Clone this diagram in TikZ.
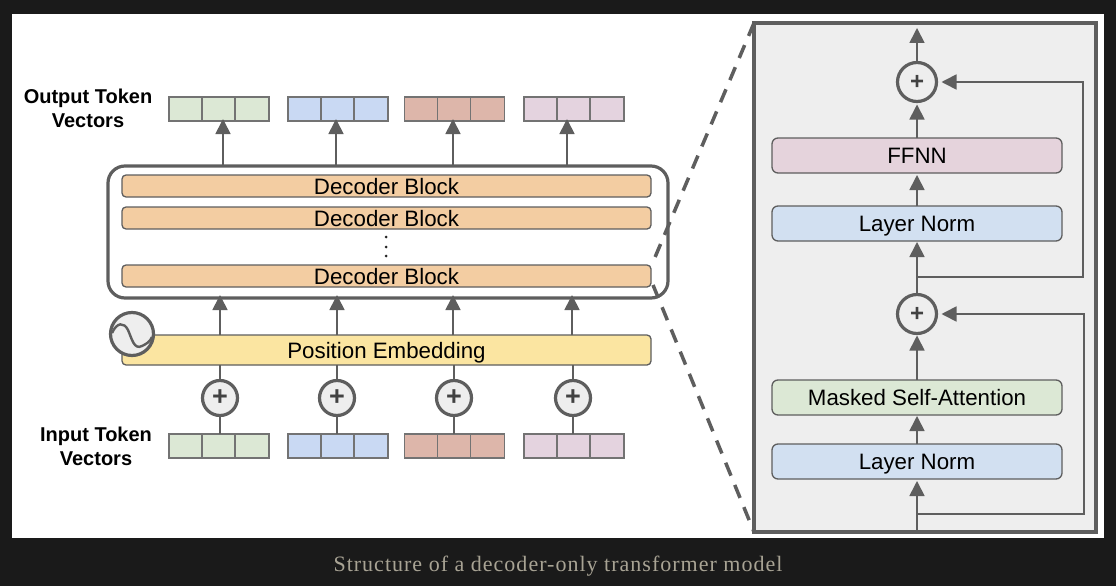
\documentclass[tikz,border=0pt]{standalone}
\usepackage{fontspec}
\setmainfont{Liberation Sans}
\newfontfamily\capfont[LetterSpace=4.6]{Liberation Serif}
\usetikzlibrary{arrows.meta}
\definecolor{ln}{HTML}{5E5E5E}
\definecolor{vln}{HTML}{737373}
\definecolor{vgreen}{HTML}{DCE8D5}
\definecolor{vblue}{HTML}{C9D9F3}
\definecolor{vred}{HTML}{DDB6AA}
\definecolor{vpink}{HTML}{E4D3DF}
\definecolor{orangeb}{HTML}{F3CDA2}
\definecolor{yellowb}{HTML}{FBE5A1}
\definecolor{lblue}{HTML}{D2E0F1}
\definecolor{lgreen}{HTML}{DCE8D5}
\definecolor{lpink}{HTML}{E5D3DC}
\definecolor{panel}{HTML}{EEEEEE}
\definecolor{dark}{HTML}{1A1A1A}
\definecolor{captxt}{HTML}{A8A394}
\tikzset{
  x=1pt,y=-1pt,
  every node/.style={outer sep=0pt},
  vecbox/.style={draw=vln,line width=1.2pt,minimum width=100pt,minimum height=24pt,inner sep=0pt},
  block/.style={draw=ln,line width=1.3pt,rounded corners=4pt,minimum width=529pt,inner sep=0pt,text=black,text height=18pt,text depth=2pt,font=\fontsize{22.3}{24}\selectfont},
  decblock/.style={block,fill=orangeb,minimum height=22pt},
  sideblock/.style={block,minimum width=290pt,minimum height=35pt,rounded corners=6pt},
  plusc/.style={circle,draw=ln,fill=panel,line width=3.2pt,minimum size=35pt,inner sep=0pt,text=ln!70!black,font=\bfseries\fontsize{27}{27}\selectfont},
  bigplus/.style={plusc,minimum size=39pt,font=\bfseries\fontsize{24}{24}\selectfont},
  arr/.style={draw=ln,line width=1.7pt,-{Triangle[length=15pt,width=15pt]}},
  plain/.style={draw=ln,line width=1.8pt},
  lab/.style={align=center,font=\bfseries\fontsize{20}{24}\selectfont,text=black,inner sep=0pt},
  zoomline/.style={draw=ln,line width=3.5pt,dash pattern=on 14pt off 10pt},
  celldiv/.style={draw=vln,line width=1.2pt},
  dotmark/.style={circle,fill=black!85,minimum size=3pt,inner sep=0pt}
}
\begin{document}
\begin{tikzpicture}
\useasboundingbox (0,0) rectangle (1116,586);
\fill[dark] (0,0) rectangle (1116,586);
\fill[white] (12,14) rectangle (1104,538);

% Token vectors
\foreach \n/\cx/\col in {1/219/vgreen,2/338/vblue,3/454.5/vred,4/574/vpink}{
  \node[vecbox,fill=\col] (o\n) at (\cx,109) {};
  \node[vecbox,fill=\col] (i\n) at (\cx,446) {};
  \draw[celldiv] (\cx-17,97) -- (\cx-17,121) (\cx+16,97) -- (\cx+16,121);
  \draw[celldiv] (\cx-17,434) -- (\cx-17,458) (\cx+16,434) -- (\cx+16,458);
}
\node[lab] (outlab) at (88,108.5) {Output Token\\Vectors};
\node[lab] (inlab) at (96,446) {Input Token\\Vectors};

% Decoder stack
\node[draw=ln,line width=3.2pt,rounded corners=17pt,minimum width=560pt,minimum height=132pt,inner sep=0pt] (stack) at (388,232) {};
\node[decblock] (d1) at (386.5,186) {Decoder Block};
\node[decblock] (d2) at (386.5,218) {Decoder Block};
\node[decblock] (d3) at (386.5,276) {Decoder Block};
\node[dotmark] (dot1) at (386,237) {};
\node[dotmark] (dot2) at (386,247) {};
\node[dotmark] (dot3) at (386,256) {};

% Position embedding
\node[block,fill=yellowb,minimum height=30pt] (pos) at (386.5,350) {Position Embedding};
\node[circle,draw=ln,fill=panel,line width=3.2pt,minimum size=43pt,inner sep=0pt] (sine) at (132,334) {};
\draw[ln,line width=2.4pt] (112,333) .. controls (117,322) and (124,322) .. (128,330)
   .. controls (132,339) and (134,350) .. (142,346) .. controls (146,344) and (150,342) .. (152,337);

% Plus circles and arrows, left side
\foreach \n/\px/\ax/\bx in {1/220/223/220,2/337/336/337,3/454/453/453,4/573/567/572}{
  \node[plusc] (p\n) at (\px,398) {+};
  \draw[plain] (i\n.north -| p\n) -- (p\n);
  \draw[plain] (p\n) -- (pos.south -| p\n);
  \coordinate (ca\n) at (\ax,150);
  \coordinate (cb\n) at (\bx,318);
  \draw[arr] (stack.north -| ca\n) -- ([yshift=2pt]o\n.south -| ca\n);
  \draw[arr] (pos.north -| cb\n) -- ([yshift=3pt]stack.south -| cb\n);
}

% Detail panel
\node[draw=ln,fill=panel,line width=3.2pt,minimum width=342pt,minimum height=509pt,inner sep=0pt,anchor=north west] (panelbox) at (754,23) {};
\coordinate (tl) at (754,23);
\coordinate (bl) at (754,532);
\coordinate (zt) at (653,262);
\coordinate (zb) at (653,285);
\draw[zoomline] (tl) -- (zt);
\draw[zoomline] (zb) -- (bl);

\node[sideblock,fill=lpink] (ffnn) at (917,155.5) {FFNN};
\node[sideblock,fill=lblue] (ln2) at (917,223.5) {Layer Norm};
\node[sideblock,fill=lgreen] (msa) at (917,397.5) {Masked Self-Attention};
\node[sideblock,fill=lblue] (ln1) at (917,461.5) {Layer Norm};
\node[bigplus] (add2) at (917,82) {+};
\node[bigplus] (add1) at (917,314) {+};

\coordinate (top) at (917,28);
\coordinate (b1) at (917,514);
\coordinate (b2) at (917,277);
\coordinate (r1) at (1084,0);
\coordinate (r2) at (1083,0);
\draw[arr] (add2.north) -- (top);
\draw[arr,shorten >=3pt] (ffnn.north) -- (add2.south);
\draw[arr,shorten >=2pt] (ln2.north) -- (ffnn.south);
\draw[arr,shorten >=1pt] (add1.north) -- (ln2.south);
\draw[arr,shorten >=2pt] (msa.north) -- (add1.south);
\draw[arr,shorten >=1pt] (ln1.north) -- (msa.south);
\draw[arr,shorten >=2pt] (panelbox.south -| ln1) -- (ln1.south);
\draw[arr,shorten >=5pt] (b2) -- (b2 -| r2) -- (add2 -| r2) -- (add2.east);
\draw[arr,shorten >=5pt] (b1) -- (b1 -| r1) -- (add1 -| r1) -- (add1.east);

% Caption
\node[text=captxt,inner sep=0pt,font=\capfont\fontsize{22}{24}\selectfont] (cap) at (558,566) {Structure of a decoder-only transformer model};
\end{tikzpicture}
\end{document}
